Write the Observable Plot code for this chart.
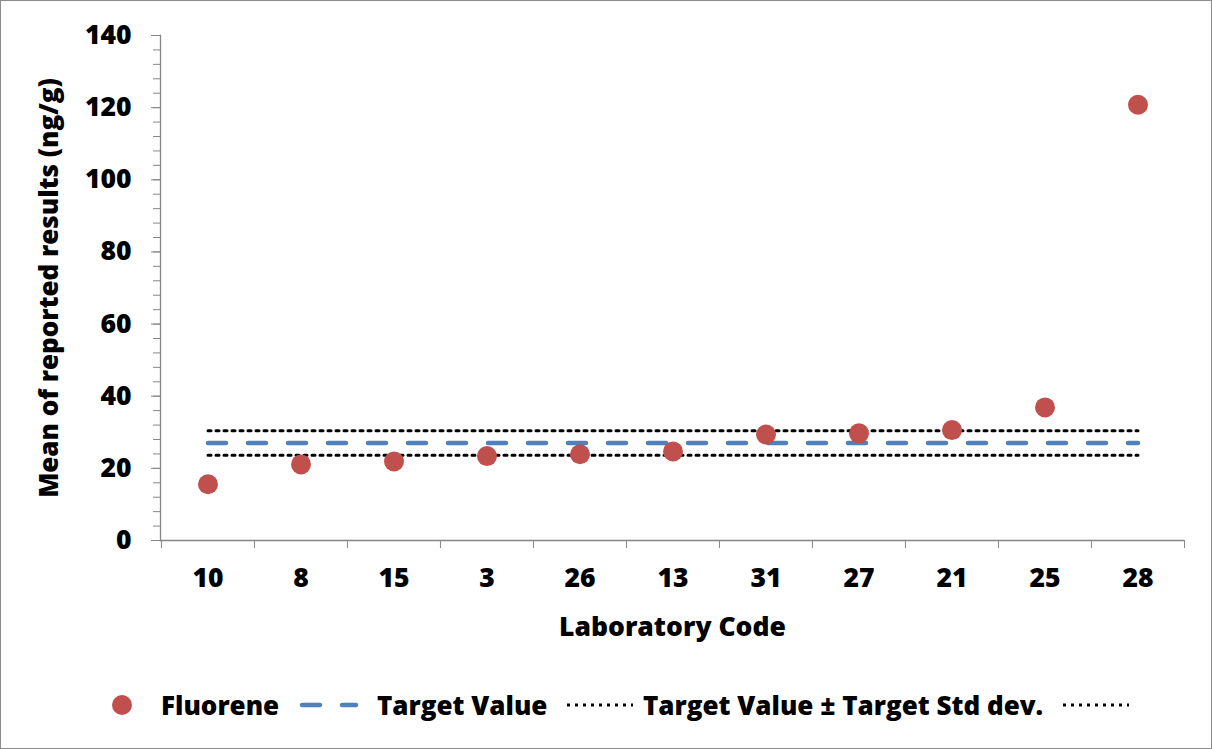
<!DOCTYPE html>
<html>
<head>
<meta charset="utf-8">
<script src="https://cdn.jsdelivr.net/npm/d3@7"></script>
<script src="https://cdn.jsdelivr.net/npm/@observablehq/plot@0.6"></script>
<style>
  html, body { margin: 0; padding: 0; background: #fff; }
  #wrap { position: relative; width: 1212px; height: 749px; box-sizing: border-box; border: 1px solid #8c8c8c; overflow: hidden; font-family: "Open Sans", Lato, sans-serif; }
  #chart { position: absolute; left: 0; top: 0; }
  #legend { position: absolute; left: 0; top: 689px; width: 1210px; height: 30px; }
  #legend .item { position: absolute; top: 0; height: 30px; display: flex; align-items: center; font-weight: 800; font-size: 26px; color: #000; white-space: nowrap; }
</style>
</head>
<body>
<div id="wrap">
  <div id="chart"></div>
  <div id="legend"></div>
</div>
<script>
// ---- data ----
const labs = ["10", "8", "15", "3", "26", "13", "31", "27", "21", "25", "28"];
const means = [15.6, 21.1, 21.9, 23.4, 23.9, 24.7, 29.4, 29.7, 30.6, 36.9, 120.8];
const targetValue = 27.0;
const targetUpper = 30.4;
const targetLower = 23.6;
const yTicks = [0, 20, 40, 60, 80, 100, 120, 140];
const seriesNames = ["Fluorene", "Target Value", "Target Value ± Target Std dev.", ""];

const points = labs.map((l, i) => ({lab: l, value: means[i]}));
const tv = labs.map(l => ({lab: l, value: targetValue}));
const up = labs.map(l => ({lab: l, value: targetUpper}));
const lo = labs.map(l => ({lab: l, value: targetLower}));

const W = 1210, H = 660;
const mL = 159, mR = 27, mT = 34, mB = 121;
const bw = (W - mL - mR) / labs.length;
const font = "'Open Sans', Lato, sans-serif";
const axisColor = "#868686";

const plot = Plot.plot({
  width: W, height: H,
  marginLeft: mL, marginRight: mR, marginTop: mT, marginBottom: mB,
  style: {fontFamily: font, fontWeight: 800, fontSize: "26.5px", color: "#000", background: "transparent", overflow: "visible"},
  x: {type: "band", domain: labs, padding: 0},
  y: {domain: [0, 140]},
  marks: [
    // minor y ticks
    Plot.axisY({ticks: d3.range(0, 141, 4), tickSize: 7, text: null, stroke: axisColor, label: null}),
    // major y ticks + labels
    Plot.axisY({ticks: yTicks, tickSize: 9, tickPadding: 20, stroke: axisColor, fill: "#000",
      fontSize: 26.5, fontWeight: 800, label: null}),
    // y label
    Plot.axisY({ticks: [], tickSize: 0, fontSize: 26, fontWeight: 800, fill: "#000",
      label: "Mean of reported results (ng/g)", labelAnchor: "center", labelOffset: 121, labelArrow: "none"}),
    // x tick marks at band boundaries
    Plot.axisX({ticks: labs, tickSize: 8, text: null, dx: -bw / 2, stroke: axisColor, label: null}),
    Plot.axisX({ticks: labs.slice(-1), tickSize: 8, text: null, dx: bw / 2, stroke: axisColor, label: null}),
    // x labels
    Plot.axisX({ticks: labs, tickSize: 0, tickPadding: 28, fill: "#000", fontSize: 26.5, fontWeight: 800,
      label: "Laboratory Code", labelAnchor: "center", labelOffset: 95, labelArrow: "none"}),
    // axis lines
    Plot.frame({anchor: "left", stroke: axisColor, strokeWidth: 1.3}),
    Plot.ruleY([0], {stroke: axisColor, strokeWidth: 1.3}),
    // target lines
    Plot.line(up, {x: "lab", y: "value", stroke: "#000", strokeWidth: 3, strokeDasharray: "3,5"}),
    Plot.line(lo, {x: "lab", y: "value", stroke: "#000", strokeWidth: 3, strokeDasharray: "3,5"}),
    Plot.line(tv, {x: "lab", y: "value", stroke: "#4F81BD", strokeWidth: 4.5, strokeDasharray: "18,22", strokeLinecap: "round"}),
    // points
    Plot.dot(points, {x: "lab", y: "value", r: 10, fill: "#C0504D", stroke: "none"})
  ]
});
document.getElementById("chart").appendChild(plot);

// legend
const legend = document.getElementById("legend");
function item(left, swatchSvg, text, gap) {
  const d = document.createElement("div");
  d.className = "item";
  d.style.left = left + "px";
  d.innerHTML = swatchSvg + (text ? `<span style="margin-left:${gap}px">${text}</span>` : "");
  legend.appendChild(d);
}
item(110, `<svg width="24" height="30"><circle cx="11" cy="15" r="10" fill="#C0504D"/></svg>`, seriesNames[0], 26);
item(298, `<svg width="60" height="30"><line x1="3" y1="15" x2="57" y2="15" stroke="#4F81BD" stroke-width="4.5" stroke-dasharray="18,22" stroke-linecap="round"/></svg>`, seriesNames[1], 18);
item(566, `<svg width="66" height="30"><line x1="0" y1="15" x2="66" y2="15" stroke="#000" stroke-width="3" stroke-dasharray="3,5"/></svg>`, seriesNames[2], 10);
item(1062, `<svg width="66" height="30"><line x1="0" y1="15" x2="66" y2="15" stroke="#000" stroke-width="3" stroke-dasharray="3,5"/></svg>`, seriesNames[3], 0);
</script>
</body>
</html>
